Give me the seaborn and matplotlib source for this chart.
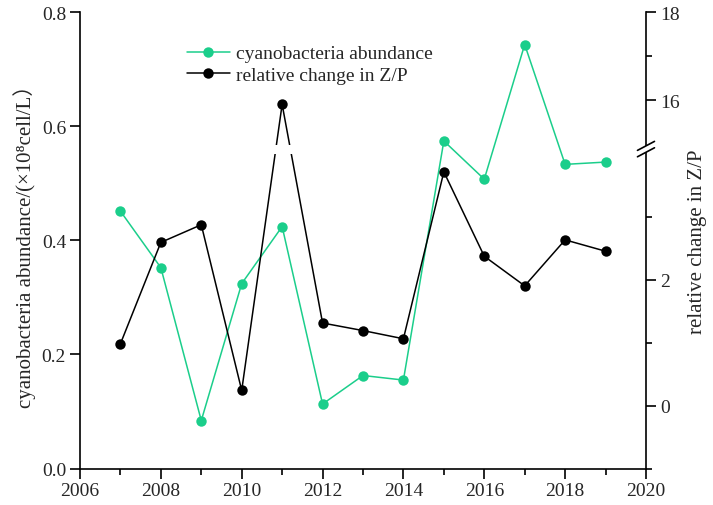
import numpy as np
import pandas as pd
import matplotlib
matplotlib.use("Agg")
import matplotlib.pyplot as plt
from matplotlib.lines import Line2D
from matplotlib.patches import Rectangle
import seaborn as sns

# ---- data ----
years = [2007, 2008, 2009, 2010, 2011, 2012, 2013, 2014, 2015, 2016, 2017, 2018, 2019]
cyano = [0.451, 0.352, 0.084, 0.324, 0.424, 0.113, 0.163, 0.155, 0.574, 0.507, 0.743, 0.533, 0.537]
zp_change = [0.98, 2.59, 2.87, 0.24, 15.91, 1.31, 1.19, 1.06, 3.71, 2.37, 1.90, 2.63, 2.45]

left_label = "cyanobacteria abundance/(×10⁸cell/L）"
right_label = "relative change in Z/P"
series_names = ["cyanobacteria abundance", "relative change in Z/P"]

x_ticks = [2006, 2008, 2010, 2012, 2014, 2016, 2018, 2020]
left_ticks = [0.0, 0.2, 0.4, 0.6, 0.8]
right_major = [0, 2, 16, 18]
right_minor = [-1, 1, 3, 17]

GREEN = "#1BCE8B"
BLACK = "#000000"

sns.set_style("ticks")
plt.rcParams["font.family"] = ["Liberation Serif", "DejaVu Serif", "Noto Sans CJK SC"]
plt.rcParams["axes.linewidth"] = 1.2

fig = plt.figure(figsize=(7.13, 5.06), dpi=100)
ax = fig.add_axes([0.1122, 0.0721, 0.9060 - 0.1122, 0.9743 - 0.0721])
ax2 = ax.twinx()

df = pd.DataFrame({"year": years, "cyano": cyano, "zp": zp_change})

MS = 7.5
sns.lineplot(data=df, x="year", y="cyano", ax=ax, color=GREEN, marker="o",
             markersize=MS, markeredgewidth=0, linewidth=1.1, legend=False)
sns.lineplot(data=df, x="year", y="zp", ax=ax2, color=BLACK, marker="o",
             markersize=MS, markeredgewidth=0, linewidth=1.1, legend=False)

# broken right axis via piecewise-linear scale
seg_v = [-1, 4, 15, 18]
seg_p = [0, 315, 324, 456.6]

def fwd(v):
    return np.interp(v, seg_v, seg_p)

def inv(p):
    return np.interp(p, seg_p, seg_v)

ax2.set_yscale("function", functions=(fwd, inv))
ax2.set_ylim(-1, 18)
ax2.set_yticks(right_major)
ax2.set_yticks(right_minor, minor=True)
ax2.set_yticklabels([str(t) for t in right_major])

ax.set_xlim(2006, 2020)
ax.set_ylim(0, 0.8)
ax.set_xticks(x_ticks)
ax.set_xticks([2007, 2009, 2011, 2013, 2015, 2017, 2019], minor=True)
ax.set_yticks(left_ticks)
ax.set_yticklabels([f"{t:.1f}" for t in left_ticks])
ax.set_xlabel("")

ax.set_ylabel(left_label, fontsize=15, labelpad=4)
ax2.set_ylabel(right_label, fontsize=15, labelpad=6)

for a in (ax, ax2):
    a.tick_params(which="major", direction="out", length=7, width=1.2, labelsize=14,
                  color="black", pad=3)
    a.tick_params(which="minor", direction="out", length=4, width=1.2, color="black")
    a.spines["top"].set_visible(False)
    for s in a.spines.values():
        s.set_color("black")
ax.spines["right"].set_visible(False)
ax2.spines["left"].set_visible(False)
ax2.spines["bottom"].set_visible(False)

# gap in the black line across the axis break
ax2.axhspan(4, 15, xmin=0.30, xmax=0.42, color="white", zorder=5, linewidth=0)

# break marks on right spine
yc = 319.5 / 456.6
dx = 8.5 / 566
dy = 4.5 / 456.6
sep = 3.2 / 456.6
ax2.add_patch(Rectangle((1 - 0.006, yc - sep), 0.012, 2 * sep, transform=ax2.transAxes,
                        facecolor="white", edgecolor="none", clip_on=False, zorder=6))
for off in (-sep, sep):
    ax2.plot([1 - dx, 1 + dx], [yc + off - dy, yc + off + dy], transform=ax2.transAxes,
             color="black", linewidth=1.2, clip_on=False, zorder=7)

handles = [Line2D([], [], color=GREEN, marker="o", markersize=MS, markeredgewidth=0, linewidth=1.1),
           Line2D([], [], color=BLACK, marker="o", markersize=MS, markeredgewidth=0, linewidth=1.1)]
ax2.legend(handles, series_names, loc="upper left", bbox_to_anchor=(0.189, 0.928), frameon=False,
           fontsize=14, handlelength=2.2, handletextpad=0.3, labelspacing=0.2,
           borderpad=0, borderaxespad=0)

fig.savefig("out.png", dpi=100)
